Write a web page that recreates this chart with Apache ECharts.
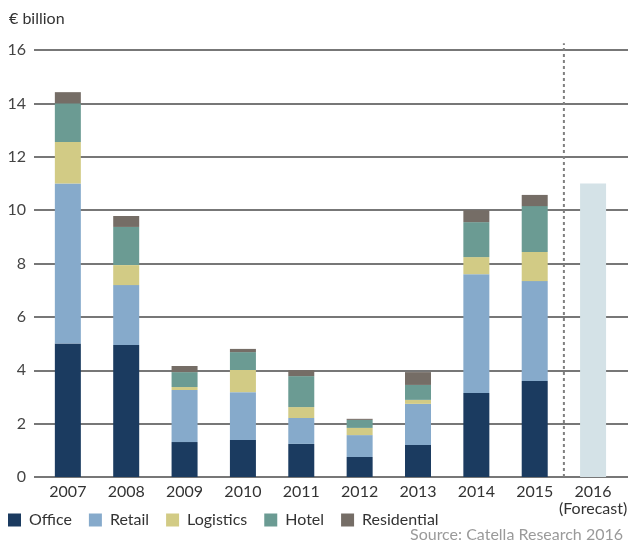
<!DOCTYPE html>
<html>
<head>
<meta charset="utf-8">
<script src="https://cdn.jsdelivr.net/npm/echarts@6/dist/echarts.min.js"></script>
<style>
  html, body { margin: 0; padding: 0; background: #fff; }
  #chart { width: 630px; height: 549px; }
</style>
</head>
<body>
<div id="chart"></div>
<script>
// Investment volume by sector, € billion
var years = ['2007', '2008', '2009', '2010', '2011', '2012', '2013', '2014', '2015', '2016\n(Forecast)'];
var office      = [5.00, 4.95, 1.31, 1.39, 1.24, 0.75, 1.20, 3.15, 3.60, '-'];
var retail      = [6.00, 2.24, 1.95, 1.79, 0.97, 0.82, 1.54, 4.45, 3.74, '-'];
var logistics   = [1.55, 0.75, 0.11, 0.83, 0.41, 0.27, 0.15, 0.64, 1.09, '-'];
var hotel       = [1.45, 1.43, 0.56, 0.67, 1.16, 0.30, 0.56, 1.31, 1.72, '-'];
var residential = [0.42, 0.41, 0.23, 0.12, 0.22, 0.04, 0.48, 0.45, 0.42, '-'];
var forecast    = ['-', '-', '-', '-', '-', '-', '-', '-', '-', 11.0];
var yTicks = { min: 0, max: 16, interval: 2 };

var colors = {
  office: '#1b3b60', retail: '#86aacb', logistics: '#d2cb85',
  hotel: '#6b9b93', residential: '#756d66', forecast: '#d4e2e7'
};
var fontFamily = 'Lato, "Open Sans", sans-serif';

function barSeries(name, data, color) {
  return {
    name: name, type: 'bar', stack: 'total', data: data,
    xAxisIndex: 1, yAxisIndex: 1, barWidth: 26,
    itemStyle: { color: color }, emphasis: { disabled: true }
  };
}

var chart = echarts.init(document.getElementById('chart'), null, { renderer: 'canvas' });
chart.setOption({
  animation: false,
  textStyle: { fontFamily: fontFamily },
  title: [
    { text: '€ billion', left: 4, top: 6,
      textStyle: { fontSize: 16, fontWeight: 'normal', color: '#333', fontFamily: fontFamily } },
    { text: 'Source: Catella Research 2016', right: 2, bottom: 1,
      textStyle: { fontSize: 16, fontWeight: 'normal', color: '#9a9a9a', fontFamily: fontFamily } }
  ],
  legend: {
    left: 3, top: 507, itemWidth: 13, itemHeight: 13, itemGap: 17, icon: 'rect',
    data: ['Office', 'Retail', 'Logistics', 'Hotel', 'Residential'],
    textStyle: { fontSize: 16, color: '#333', padding: [0, 0, 0, 3] }
  },
  grid: [
    { left: 34, right: 2, top: 50, bottom: 72 },
    { left: 38.67, right: 4.67, top: 50, bottom: 72 }
  ],
  xAxis: [
    { type: 'value', gridIndex: 0, min: 0, max: 1, show: false },
    { type: 'category', gridIndex: 1, data: years,
      axisLine: { show: false }, axisTick: { show: false },
      axisLabel: { fontSize: 16, color: '#333', margin: 6, lineHeight: 17, interval: 0 } },
    { type: 'value', gridIndex: 1, min: -0.5, max: 9.5, show: false }
  ],
  yAxis: [
    { type: 'value', gridIndex: 0, min: yTicks.min, max: yTicks.max, interval: yTicks.interval,
      axisLine: { show: false }, axisTick: { show: false },
      axisLabel: { fontSize: 16, color: '#444', margin: 8 },
      splitLine: { show: true, lineStyle: { color: '#4a4a4a', width: 1.5 } } },
    { type: 'value', gridIndex: 1, min: yTicks.min, max: yTicks.max, show: false }
  ],
  series: [
    barSeries('Office', office, colors.office),
    barSeries('Retail', retail, colors.retail),
    barSeries('Logistics', logistics, colors.logistics),
    barSeries('Hotel', hotel, colors.hotel),
    barSeries('Residential', residential, colors.residential),
    barSeries('Forecast', forecast, colors.forecast),
    {
      // dotted divider between actual and forecast years
      name: 'divider', type: 'line', xAxisIndex: 2, yAxisIndex: 1,
      data: [[8.5, 0], [8.5, 16.25]], symbol: 'none', clip: false, silent: true,
      lineStyle: { color: '#808080', width: 2, type: [3, 3] }, z: 5
    }
  ]
});
</script>
</body>
</html>
